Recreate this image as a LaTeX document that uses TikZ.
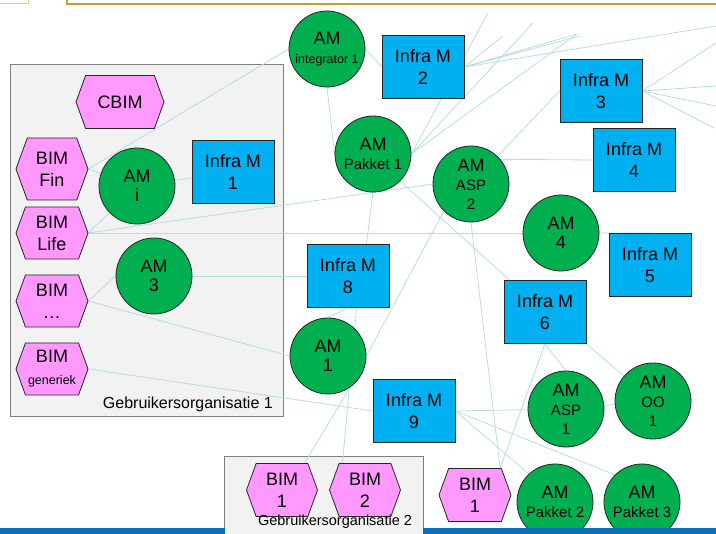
\documentclass[tikz,border=0pt]{standalone}
\usepackage{fontspec}
\setmainfont{Liberation Sans}
\usepackage{xcolor}
\usetikzlibrary{shapes.symbols}
\usetikzlibrary{fit}
\definecolor{cgreen}{HTML}{00B050}
\definecolor{cblue}{HTML}{00B0F0}
\definecolor{cpink}{HTML}{FF99FF}
\definecolor{cgroup}{HTML}{F2F2F2}
\definecolor{cgroupline}{HTML}{7F7F7F}
\definecolor{clink}{HTML}{B7DDE1}
\definecolor{cbar}{HTML}{0B70BA}
\definecolor{cgold}{HTML}{D09A2E}
\definecolor{cgoldlight}{HTML}{EBC88A}
\pgfdeclarelayer{groups}
\pgfdeclarelayer{links}
\pgfsetlayers{groups,links,main}
\newcommand{\smalltxt}[1]{{\fontsize{15}{17}\selectfont #1}}
\newcommand{\tinytxt}[1]{{\fontsize{12.5}{15}\selectfont #1}}

\begin{document}
\begin{tikzpicture}[x=1pt, y=-1pt]
    \tikzset{
        infra/.style={rectangle, draw=black!85, line width=0.8pt, fill=cblue, align=center, font=\fontsize{18}{22}\selectfont, minimum width=82pt, minimum height=63pt, inner sep=0pt},
        am/.style={circle, draw=black!85, line width=0.8pt, fill=cgreen, align=center, font=\fontsize{18}{19}\selectfont, minimum size=76pt, inner sep=0pt},
        bim/.style={signal, signal to=west and east, signal pointer angle=140, draw=black!85, line width=0.8pt, fill=cpink, align=center, font=\fontsize{18}{22}\selectfont, minimum width=72pt, minimum height=52pt, inner sep=0pt},
        group/.style={rectangle, draw=cgroupline, line width=1.2pt, fill=cgroup, inner sep=0pt},
        grouplabel/.style={font=\fontsize{16}{18}\selectfont, inner sep=0pt},
        point/.style={rectangle, inner sep=0pt, minimum size=0pt},
        link/.style={draw=clink, line width=0.8pt}
    }
    \useasboundingbox (0,0) rectangle (716,534);

    \draw[cgoldlight, line width=1pt] (-5,-5) rectangle (28.5,4);
    \draw[cgold, line width=1.2pt] (67,-5) rectangle (722,4);

    \node[bim, minimum width=88pt, minimum height=53pt] (cbim) at (120,102) {CBIM};
    \node[bim, minimum height=62pt] (bim_fin) at (52,169) {BIM\\Fin};
    \node[bim] (bim_life) at (52,233) {BIM\\Life};
    \node[bim] (bim_dots) at (52,301) {BIM\\…};
    \node[bim] (bim_gen) at (52,369) {BIM\\\tinytxt{generiek}};

    \node[am] (am_i) at (137,186) {AM\\i};
    \node[infra] (infra_1) at (233,172) {Infra M\\1};
    \node[am] (am_3) at (154,276) {AM\\3};

    \node[am] (am_int) at (327,49) {AM\\\tinytxt{integrator 1}};
    \node[infra] (infra_2) at (423,67) {Infra M\\2};
    \node[am] (am_pak1) at (373,154) {AM\\\smalltxt{Pakket 1}};
    \node[am] (am_asp2) at (471,184) {AM\\\smalltxt{ASP}\\\smalltxt{2}};
    \node[infra] (infra_3) at (601,91) {Infra M\\3};
    \node[infra] (infra_4) at (634,160) {Infra M\\4};
    \node[am] (am_4) at (561,233) {AM\\4};
    \node[infra] (infra_5) at (650,265) {Infra M\\5};
    \node[infra] (infra_8) at (348,276) {Infra M\\8};
    \node[infra] (infra_6) at (545,312) {Infra M\\6};
    \node[am] (am_1) at (328,356) {AM\\1};
    \node[am] (am_asp1) at (566,409) {AM\\\smalltxt{ASP}\\\smalltxt{1}};
    \node[am] (am_oo1) at (653,401) {AM\\\smalltxt{OO}\\\smalltxt{1}};
    \node[infra] (infra_9) at (414,411) {Infra M\\9};

    \node[bim, minimum width=71pt, minimum height=53pt] (bim_1) at (282,490) {BIM\\1};
    \node[bim, minimum width=71pt, minimum height=53pt] (bim_2) at (365,490) {BIM\\2};
    \node[bim, minimum height=53pt] (bim_1r) at (475,495) {BIM\\1};
    \node[am] (am_pak2) at (555,502) {AM\\\smalltxt{Pakket 2}};
    \node[am] (am_pak3) at (642,502) {AM\\\smalltxt{Pakket 3}};

    \node[grouplabel, anchor=east] (g1_label) at (273,404) {Gebruikersorganisatie 1};
    \node[grouplabel, font=\fontsize{14.5}{16}\selectfont] (g2_label) at (335,522) {Gebruikersorganisatie 2};

    \node[point] (g1_nw) at (11,65) {};
    \node[point] (g1_se) at (283,416) {};
    \node[point] (g2_nw) at (225,457) {};
    \node[point] (g2_se) at (423,540) {};
    \begin{pgfonlayer}{groups}
        \node[group, fit=(g1_nw) (g1_se)] (g1) {};
        \node[group, fit=(g2_nw) (g2_se)] (g2) {};
    \end{pgfonlayer}

    % loose ends running out of the picture
    \coordinate (up_a) at (488,13);
    \coordinate (up_b) at (503,36);
    \coordinate (up_c) at (533,23);
    \coordinate (up_d) at (577,34);
    \coordinate (up_e) at (580,36);
    \coordinate (up_f) at (716,26);
    \coordinate (right_a) at (716,43);
    \coordinate (right_b) at (716,86);
    \coordinate (right_c) at (716,106);
    \coordinate (right_d) at (714,128);

    \begin{pgfonlayer}{links}
        \path[link] (bim_fin.east) -- (am_int.west);
        \path[link] (bim_fin.east) -- (am_i);
        \path[link] (am_i) -- (infra_1);
        \path[link] (bim_life.east) -- (am_i);
        \path[link] (bim_life.east) -- (am_asp2.west);
        \path[link] (bim_life.east) -- (am_4.west);
        \path[link] (am_4.east) -- (infra_5.north);
        \path[link] (bim_dots.east) -- (am_3.west);
        \path[link] (bim_dots.east) -- (am_1.west);
        \path[link] (am_3) -- (infra_8);
        \path[link] (bim_gen.east) -- (infra_9.west);
        \path[link] (am_1.-55) -- (bim_1.50);
        \path[link] (infra_8.-75) -- (bim_2.130);
        \path[link] (am_1.north) -- (infra_8.south);
        \path[link] (am_pak1.south) -- (infra_8.60);
        \path[link] (am_1.east) -- (am_asp2.225);
        \path[link] (am_pak1.-45) -- (infra_6);
        \path[link] (am_int.south) -- (am_pak1.west);
        \path[link] (am_int.east) -- (infra_2.west);
        \path[link] (infra_2.east) -- (up_b);
        \path[link] (infra_2.east) -- (up_d);
        \path[link] (infra_2.east) -- (up_e);
        \path[link] (infra_2.east) -- (up_f);
        \path[link] (am_pak1.east) -- (up_a);
        \path[link] (am_pak1.east) -- (up_c);
        \path[link] (am_pak1.east) -- (up_d);
        \path[link] (am_asp2) -- (infra_3.west);
        \path[link] (am_asp2.40) -- (infra_4.west);
        \path[link] (infra_3.east) -- (right_a);
        \path[link] (infra_3.east) -- (right_b);
        \path[link] (infra_3.east) -- (right_c);
        \path[link] (infra_3.east) -- (right_d);
        \path[link] (am_asp2.south) -- (bim_1r.47);
        \path[link] (infra_6.south) -- (bim_1r.47);
        \path[link] (infra_6.south) -- (am_asp1.north);
        \path[link] (infra_6.south east) -- (am_oo1);
        \path[link] (am_asp1) -- (am_oo1);
        \path[link] (infra_9.east) -- (am_asp1);
        \path[link] (infra_9.east) -- (am_pak2.133);
        \path[link] (infra_9.east) -- (am_pak3.135);
    \end{pgfonlayer}

    \fill[cbar] (0,528) rectangle (225,534);
    \fill[cbar] (423,528) rectangle (716,534);
\end{tikzpicture}
\end{document}
